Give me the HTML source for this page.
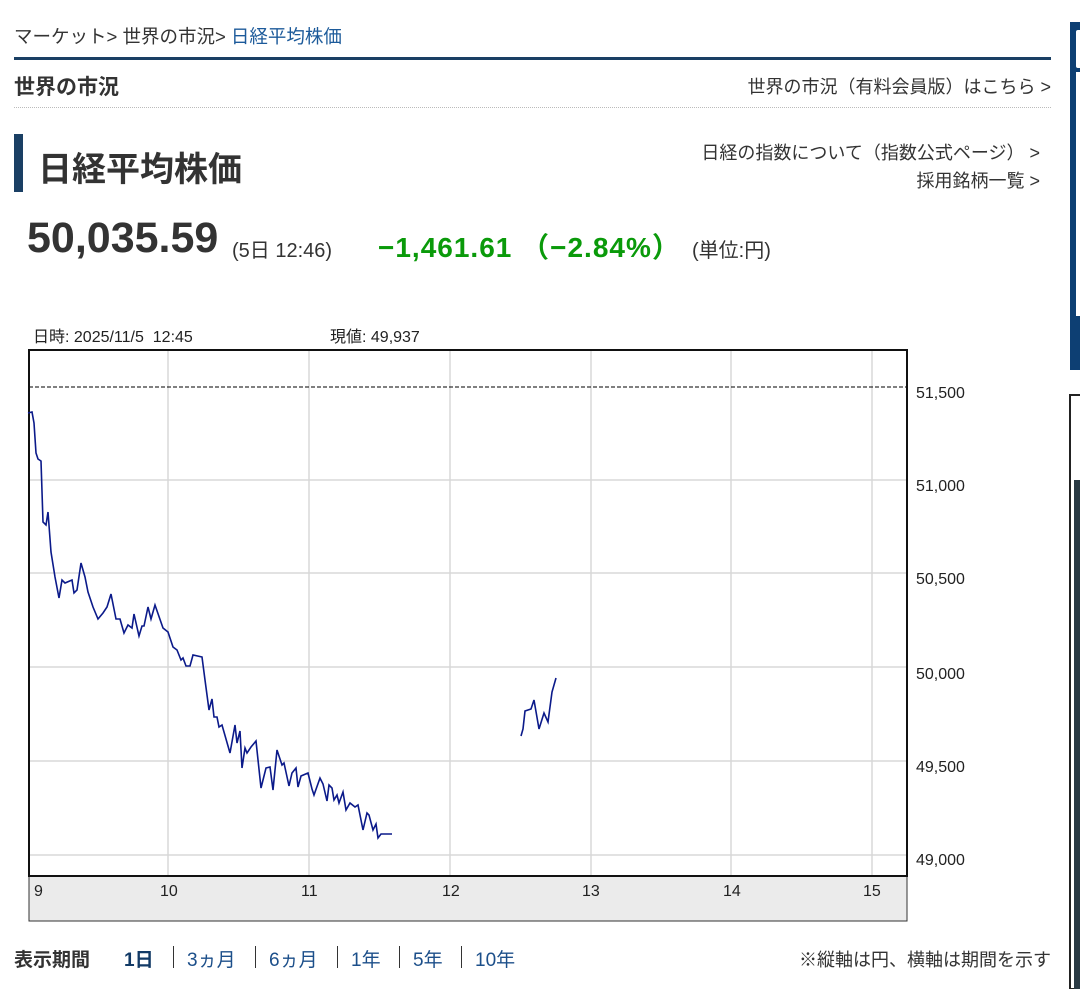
<!DOCTYPE html>
<html><head><meta charset="utf-8"><style>
body{margin:0;width:1080px;height:989px;background:#fff;position:relative;overflow:hidden;font-family:"Liberation Sans","Noto Sans CJK JP",sans-serif;color:#333}
.a{position:absolute;white-space:nowrap}
.p{position:absolute;top:945px;font-size:19px;color:#1c4f8a}
.s{position:absolute;top:946px;width:1px;height:22px;background:#333}
</style></head><body>
<div class="a" style="left:14px;top:23px;font-size:18.5px;color:#333">マーケット&gt; 世界の市況&gt; <span style="color:#1c5a9a">日経平均株価</span></div>
<div class="a" style="left:14px;top:57px;width:1037px;height:3px;background:#1a3f64"></div>
<div class="a" style="left:14px;top:71px;font-size:21px;font-weight:bold;color:#333">世界の市況</div>
<div class="a" style="right:29px;top:73px;font-size:18px">世界の市況（有料会員版）はこちら &gt;</div>
<div class="a" style="left:14px;top:107px;width:1037px;border-top:1px dotted #bbb"></div>
<div class="a" style="left:14px;top:134px;width:9px;height:58px;background:#1a3f64"></div>
<div class="a" style="left:38px;top:142px;font-size:34px;font-weight:bold;color:#333">日経平均株価</div>
<div class="a" style="right:40px;top:139px;font-size:18px">日経の指数について（指数公式ページ） &gt;</div>
<div class="a" style="right:40px;top:167px;font-size:18px">採用銘柄一覧 &gt;</div>
<div class="a" style="left:27px;top:214px;font-size:43px;font-weight:bold;color:#333">50,035.59</div>
<div class="a" style="left:232px;top:234px;font-size:20px">(5日 12:46)</div>
<div class="a" style="left:378px;top:226px;font-size:28px;font-weight:bold;color:#0a9a0a;letter-spacing:1px">−1,461.61 （−2.84%）</div>
<div class="a" style="left:692px;top:234px;font-size:20px">(単位:円)</div>
<div class="a" style="left:33px;top:323px;font-size:16px;color:#222">日時: 2025/11/5&nbsp; 12:45</div>
<div class="a" style="left:330px;top:323px;font-size:16px;color:#222">現値: 49,937</div>
<svg class="a" style="left:0;top:0" width="1080" height="989">
<rect x="29" y="876" width="878" height="45" fill="#ebebeb" stroke="#333" stroke-width="1"/>
<g stroke="#d8d8d8" stroke-width="1.5">
<line x1="29" y1="480" x2="907" y2="480"/><line x1="29" y1="573" x2="907" y2="573"/><line x1="29" y1="667" x2="907" y2="667"/><line x1="29" y1="761" x2="907" y2="761"/><line x1="29" y1="855" x2="907" y2="855"/>
<line x1="168" y1="350" x2="168" y2="876"/><line x1="309" y1="350" x2="309" y2="876"/><line x1="450" y1="350" x2="450" y2="876"/><line x1="591" y1="350" x2="591" y2="876"/><line x1="731" y1="350" x2="731" y2="876"/><line x1="872" y1="350" x2="872" y2="876"/>
</g>
<line x1="29" y1="387" x2="907" y2="387" stroke="#000" stroke-dasharray="4,2" stroke-width="1"/>
<rect x="29" y="350" width="878" height="526" fill="none" stroke="#111" stroke-width="2"/>
<g fill="none" stroke="#0b1a8a" stroke-width="1.6">
<polyline points="28,413 32,412 34,423 36,453 38,459 41,461 43,522 46,525 48,512 51,552 55,577 59,598 62,580 65,583 72,580 74,593 77,590 81,563 85,577 88,592 93,607 98,619 103,613 107,607 111,594 116,619 120,619 124,633 128,625 132,628 134,614 139,636 142,626 144,626 148,607 151,619 155,605 163,628 168,632 173,647 177,650 181,660 183,658 186,666 190,666 193,655 202,657 205,680 209,710 212,699 214,717 217,717 219,727 222,725 230,753 235,725 237,743 240,731 242,768 245,748 247,753 251,747 256,741 261,788 266,768 270,767 273,790 277,750 282,765 284,763 289,786 292,773 296,768 298,787 301,776 308,773 312,789 314,795 320,778 323,784 327,801 329,785 332,788 334,800 337,795 339,803 343,792 346,810 350,803 355,807 358,805 363,830 367,813 369,815 373,830 376,824 378,838 381,834 392,834"/>
<polyline points="521,736 523,729 525,711 531,709 534,700 539,729 544,713 548,722 552,692 556,678"/>
</g>
<g font-size="16" fill="#222" font-family="Liberation Sans,sans-serif">
<text x="916" y="398">51,500</text><text x="916" y="491">51,000</text><text x="916" y="584">50,500</text><text x="916" y="679">50,000</text><text x="916" y="772">49,500</text><text x="916" y="865">49,000</text>
<text x="34" y="896">9</text><text x="160" y="896">10</text><text x="301" y="896">11</text><text x="442" y="896">12</text><text x="582" y="896">13</text><text x="723" y="896">14</text><text x="863" y="896">15</text>
</g>
<rect x="1070" y="22" width="12" height="348" fill="#0d3f73"/>
<rect x="1076" y="30" width="8" height="38" fill="#fff" rx="2"/>
<rect x="1076" y="72" width="8" height="244" fill="#fff"/>
<rect x="1070" y="395" width="12" height="594" fill="#fff" stroke="#222" stroke-width="2"/>
<rect x="1074" y="480" width="8" height="509" fill="#2a3a44"/>
</svg>
<div class="a" style="left:14px;top:945px;font-size:19px;font-weight:bold;color:#333">表示期間</div>
<div class="p" style="left:124px;font-weight:bold;color:#123a66">1日</div>
<div class="s" style="left:173px"></div>
<div class="p" style="left:187px">3ヵ月</div>
<div class="s" style="left:255px"></div>
<div class="p" style="left:269px">6ヵ月</div>
<div class="s" style="left:337px"></div>
<div class="p" style="left:351px">1年</div>
<div class="s" style="left:399px"></div>
<div class="p" style="left:413px">5年</div>
<div class="s" style="left:461px"></div>
<div class="p" style="left:475px">10年</div>
<div class="a" style="right:29px;top:946px;font-size:18px">※縦軸は円、横軸は期間を示す</div>
</body></html>
